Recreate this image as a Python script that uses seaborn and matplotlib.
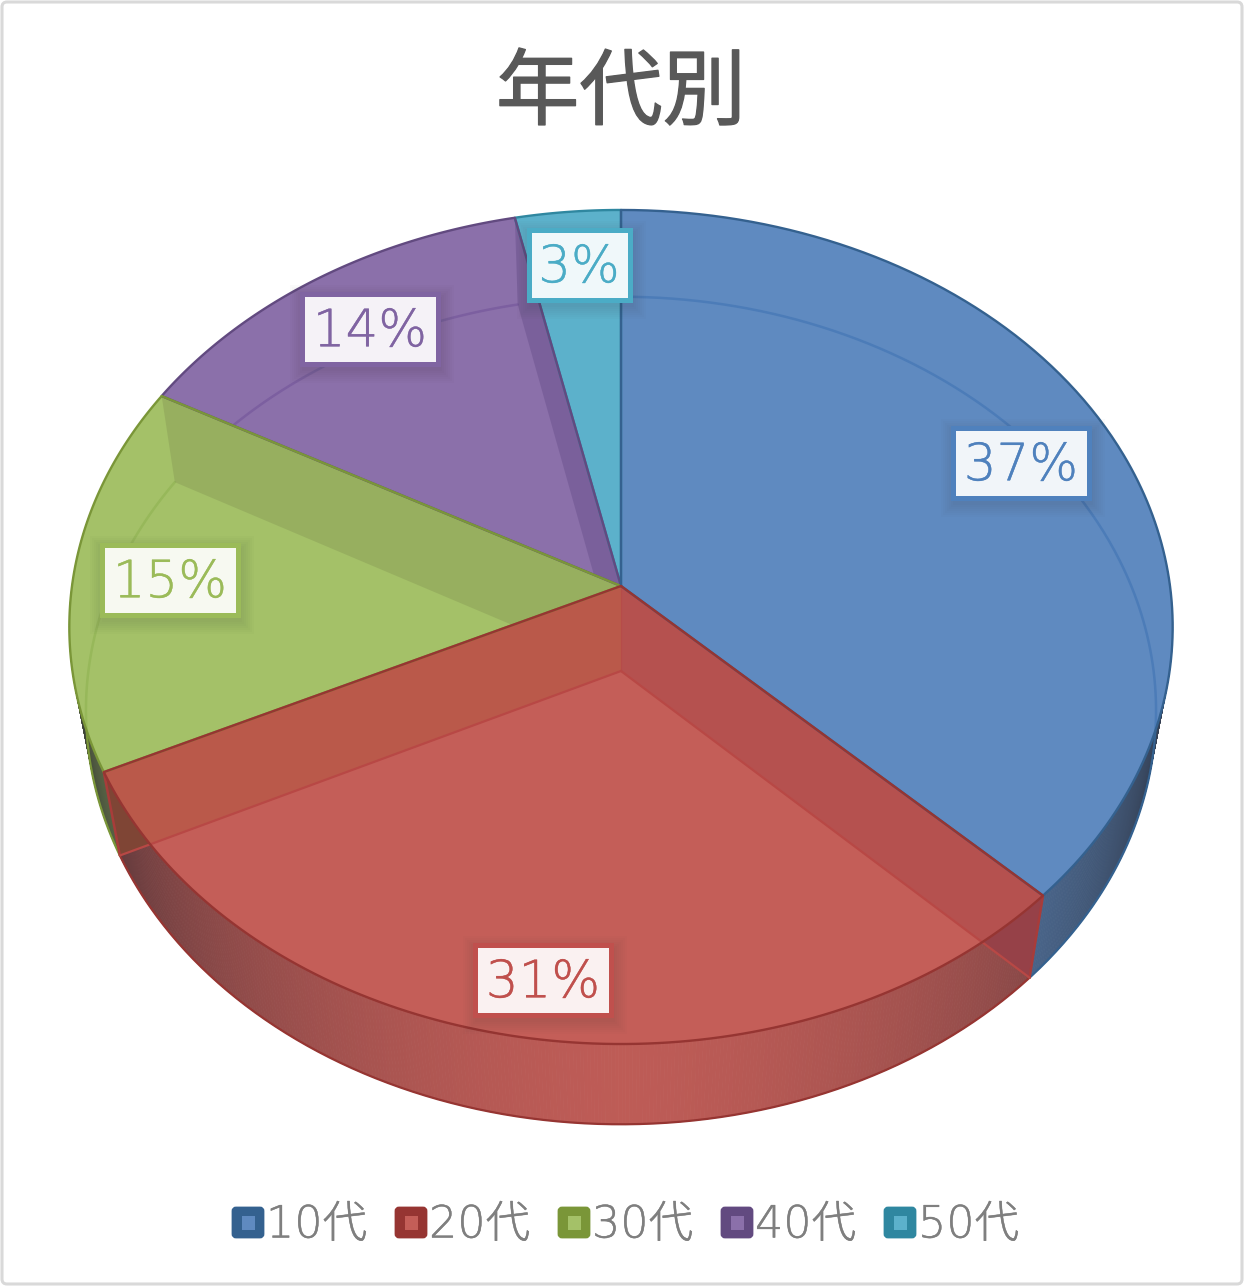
import numpy as np
import matplotlib
matplotlib.use("Agg")
import matplotlib.pyplot as plt
import matplotlib.patheffects as pe
from matplotlib.patches import Polygon, Rectangle, FancyBboxPatch
from matplotlib.collections import PolyCollection
import seaborn as sns

# ---- data ----
title = "年代別"
categories = ["10代", "20代", "30代", "40代", "50代"]
shares = [37.3, 30.6, 15.1, 13.6, 3.4]
labels = ["37%", "31%", "15%", "14%", "3%"]

# ---- styles ----
top_hex = ["#5F8AC0", "#C45E58", "#A4C168", "#8B70AA", "#5CB1CB"]
edge_hex = ["#34618F", "#963532", "#7A9638", "#624A80", "#2F87A0"]
label_hex = ["#4F81BD", "#C0504D", "#9BBB59", "#8064A2", "#4BACC6"]
inner_hex = ["#4C7CB8", "#B84845", "#97B85A", "#7C5FA0", "#4BA5C0"]
band_hex = [None, "#9A3533", "#7F8F50", "#5C4480", None]
label_xy = [(1021, 463), (543, 980), (170, 580), (370, 329), (579, 265)]

sns.set_theme(style="white")
plt.rcParams["font.family"] = ["Noto Sans CJK JP", "DejaVu Sans"]
top_pal = sns.color_palette(top_hex)
edge_pal = sns.color_palette(edge_hex)

fig = plt.figure(figsize=(12.44, 12.86), dpi=100)
ax = fig.add_axes([0, 0, 1, 1])
ax.set_xlim(0, 1244)
ax.set_ylim(1286, 0)
ax.axis("off")

ax.add_patch(FancyBboxPatch((2, 2), 1240, 1282, boxstyle="round,pad=0,rounding_size=5",
                            fc="white", ec="#D9D9D9", lw=2.2, zorder=0))

# perspective projection of the two discs: centre x, centre y, half-width factor, height factor, tilt
TOP = (621.0, 586.0, 549.0, 413.0, 0.0983)
BOT = (621.0, 671.0, 532.6, 410.0, 0.0955)


def project(theta_deg, disc, r=1.0):
    cx, cy, a, b, k = disc
    t = np.radians(theta_deg)
    u, v = r * np.sin(t), r * np.cos(t)
    d = 1 + k * v
    return np.column_stack([cx + a * u / d, cy - b * v / d])


def arc(t0, t1, disc):
    n = max(int(abs(t1 - t0) * 2), 2)
    return project(np.linspace(t0, t1, n), disc)


edges = np.concatenate([[0], np.cumsum(shares)]) / np.sum(shares) * 360.0

# outer wall, shaded along the rim
for i in range(len(shares)):
    t0, t1 = edges[i], edges[i + 1]
    a0, a1 = max(t0, 80), min(t1, 280)
    if a1 <= a0:
        continue
    ts = np.linspace(a0, a1, int((a1 - a0) * 3) + 2)
    up, lo = project(ts, TOP), project(ts, BOT)
    quads = [np.array([up[j], up[j + 1], lo[j + 1], lo[j]]) for j in range(len(ts) - 1)]
    mid = (ts[:-1] + ts[1:]) / 2
    f = np.clip(0.96 - (np.abs(mid - 180) / 90) ** 1.5 * 0.92, 0.04, 1)
    base = np.array(top_pal[i])
    gray = np.array([0.14, 0.14, 0.17])
    cols = [np.clip(base * x + gray * (1 - x), 0, 1) for x in f]
    ax.add_collection(PolyCollection(quads, facecolors=cols, edgecolors=cols, linewidths=0.6, zorder=1))
    ax.plot(lo[:, 0], lo[:, 1], color=edge_pal[i], lw=1.6, zorder=1.5)

# dark underlay of the red cut faces where they stick out over the rim
for t, col in ((edges[1], "#94454D"), (edges[2], "#6A4038")):
    q = np.vstack([[TOP[:2]], project(t, TOP), project(t, BOT), [BOT[:2]]])
    ax.add_patch(Polygon(q, closed=True, fc=col, ec="none", zorder=1.8))

# top surfaces
tops = []
for i in (0, 4, 3, 2, 1):
    t0, t1 = edges[i], edges[i + 1]
    pts = np.vstack([[TOP[:2]], arc(t0, t1, TOP)])
    patch = Polygon(pts, closed=True, fc=top_pal[i], ec="none", zorder=2 + (i == 1) * 1.2)
    ax.add_patch(patch)
    tops.append((i, patch, pts))
patch_by_index = {i: p for i, p, _ in tops}

# lower disc rim seen through the surface
for i in (0, 2, 3, 4):
    a = arc(edges[i], edges[i + 1], BOT)
    line, = ax.plot(a[:, 0], a[:, 1], color=inner_hex[i], lw=1.8, zorder=2.3)
    line.set_clip_path(patch_by_index[i])

# radial cut faces
for i, patch, pts in tops:
    if i in (2, 3):
        t = edges[i + 1]
        q = np.vstack([[TOP[:2]], project(t, TOP), project(t, BOT), [BOT[:2]]])
        face = Polygon(q, closed=True, fc=band_hex[i], ec="none", alpha=0.35, zorder=2.4)
        ax.add_patch(face)
        face.set_clip_path(patch)

for t, col in ((edges[1], "#9A3A3F"), (edges[2], "#A85030")):
    q = np.vstack([[TOP[:2]], project(t, TOP), project(t, BOT), [BOT[:2]]])
    ax.add_patch(Polygon(q, closed=True, fc=col, ec="none", alpha=0.35, zorder=3.4))
    ax.plot(q[[1, 2], 0], q[[1, 2], 1], color="#A83C3A", lw=1.8, zorder=3.5)
    ax.plot(q[[2, 3], 0], q[[2, 3], 1], color="#B84845", lw=1.6, zorder=3.5)
ax.plot([TOP[0], BOT[0]], [TOP[1], BOT[1]], color="#B84845", lw=0.8, alpha=0.5, zorder=3.5)

# slice outlines (blue over teal, red last)
order = {4: 0, 3: 1, 2: 2, 0: 3, 1: 4}
for i, patch, pts in sorted(tops, key=lambda x: order[x[0]]):
    closed = np.vstack([pts, pts[:1]])
    ax.plot(closed[:, 0], closed[:, 1], color=edge_pal[i], lw=1.7, zorder=4 + order[i] * 0.01,
            solid_joinstyle="round")

# data labels
LAT = ["DejaVu Sans", "Noto Sans CJK JP"]
for (x, y), s, c in zip(label_xy, labels, label_hex):
    w = 136 if len(s) == 3 else 101
    h = 70
    for grow in np.arange(2, 16, 2):
        ax.add_patch(Rectangle((x - w / 2 + 2 - grow, y - h / 2 + 5 - grow), w + 2 * grow, h + 2 * grow,
                               fc="#303030", ec="none", alpha=0.018, zorder=5))
    ax.add_patch(Rectangle((x - w / 2, y - h / 2), w, h, fc="white", ec=c, lw=3.6, alpha=1, zorder=6))
    ax.add_patch(Rectangle((x - w / 2, y - h / 2), w, h, fc=c, ec="none", alpha=0.08, zorder=6.1))
    ax.text(x, y + 3, s, color=c, fontsize=37, ha="center", va="center", family=LAT,
            fontweight="light", zorder=7,
            path_effects=[pe.withStroke(linewidth=0.3, foreground=c)])

# title
ax.text(621, 94, title, fontsize=60, color="#595959", ha="center", va="center",
        family=["Noto Sans CJK JP", "DejaVu Sans"], zorder=7,
        path_effects=[pe.withStroke(linewidth=1.0, foreground="#595959")])

# legend
leg_x = 231
for i, name in enumerate(categories):
    x = leg_x + 163 * i
    ax.add_patch(FancyBboxPatch((x + 2, 1208), 30, 29, boxstyle="round,pad=0,rounding_size=3",
                                fc=edge_pal[i], ec=edge_pal[i], lw=2, zorder=5))
    ax.add_patch(Rectangle((x + 11, 1216), 13, 14, fc=top_pal[i], ec="none", zorder=6))
    ax.text(x + 35, 1225, name, fontsize=32, color="#7F7F7F", ha="left", va="center",
            family=LAT, fontweight="light", zorder=7,
            path_effects=[pe.withStroke(linewidth=0.3, foreground="#7F7F7F")])

fig.savefig("out.png", dpi=100, facecolor="white")
